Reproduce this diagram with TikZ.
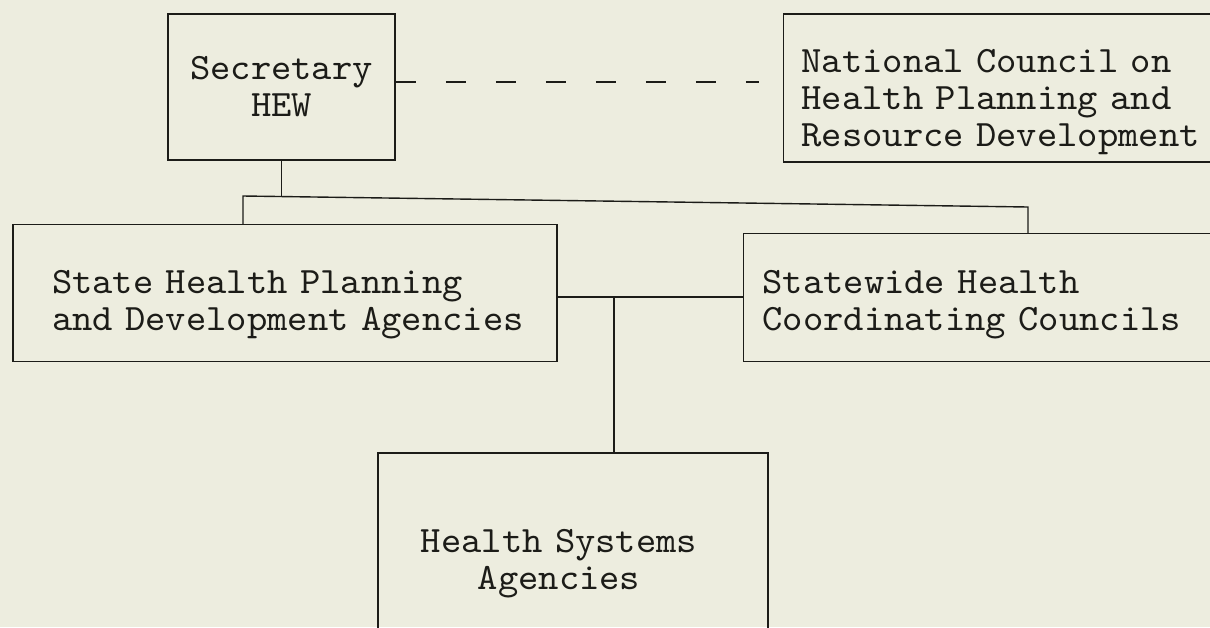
\documentclass[tikz,border=0pt]{standalone}
\usepackage{fontspec}
\usepackage{tikz}
\usetikzlibrary{positioning}
\newfontfamily\typewr{lmmono10-regular.otf}[FakeStretch=1.04]
\definecolor{paper}{RGB}{237,237,223}
\definecolor{ink}{RGB}{28,28,24}
\newcommand{\padright}{\rule{14pt}{0pt}}

\begin{document}
\begin{tikzpicture}[x=0.5pt,y=0.5pt,
		every node/.style={font=\typewr\fontsize{18.6}{18.5}\selectfont, text=ink},
		orgbox/.style={draw=ink, line width=0.75pt, rectangle},
		link/.style={draw=ink, line width=0.7pt}]
		\fill[paper] (0,0) rectangle (1210,-627);
		\useasboundingbox (0,0) rectangle (1210,-627);
		
		\node[orgbox, align=center, minimum width=113.5pt, minimum height=73pt] (sec) at (281.5,-87) {Secretary\\HEW};
		\node[orgbox, right=193.5pt of sec, yshift=-0.5pt, align=left, inner xsep=9pt, text width=230pt, minimum height=74pt, text depth=27.4pt] (nat) {National Council on\\Health Planning and\\Resource Development};
		\node[orgbox, below=31.5pt of sec, xshift=1.75pt, align=left, inner xsep=19.5pt, text width=233pt, minimum height=68.5pt, text depth=11.5pt] (state) {State Health Planning\\\mbox{and Development Agencies}};
		\node[orgbox, right=92.5pt of state, yshift=-2.25pt, align=left, inner xsep=9.5pt, text width=230pt, minimum height=64pt, text depth=15.4pt] (swide) {Statewide Health\\Coordinating Councils};
		\node[orgbox, align=center, inner xsep=9pt, text width=177pt, minimum height=111pt] (hsa) at (573,-564) {Health Systems\padright\\Agencies\padright};
		
		\coordinate (tl) at (243,-196);
		\coordinate (tr) at (1028,-207);
		\coordinate (mid) at (614,-297);
		
		\draw[link] (sec.south) -- (sec.south |- tl);
		\draw[link] (state.north -| tl) -- (tl) -- (tr) -- (tr |- swide.north);
		\draw[link] (state.east |- mid) -- (swide.west |- mid);
		\draw[link] (mid) -- (mid |- hsa.north);
		\draw[link, dash pattern=on 10pt off 15pt] ([yshift=2.5pt]sec.east) -- ([xshift=-12pt, yshift=3pt]nat.west);
	\end{tikzpicture}
\end{document}
